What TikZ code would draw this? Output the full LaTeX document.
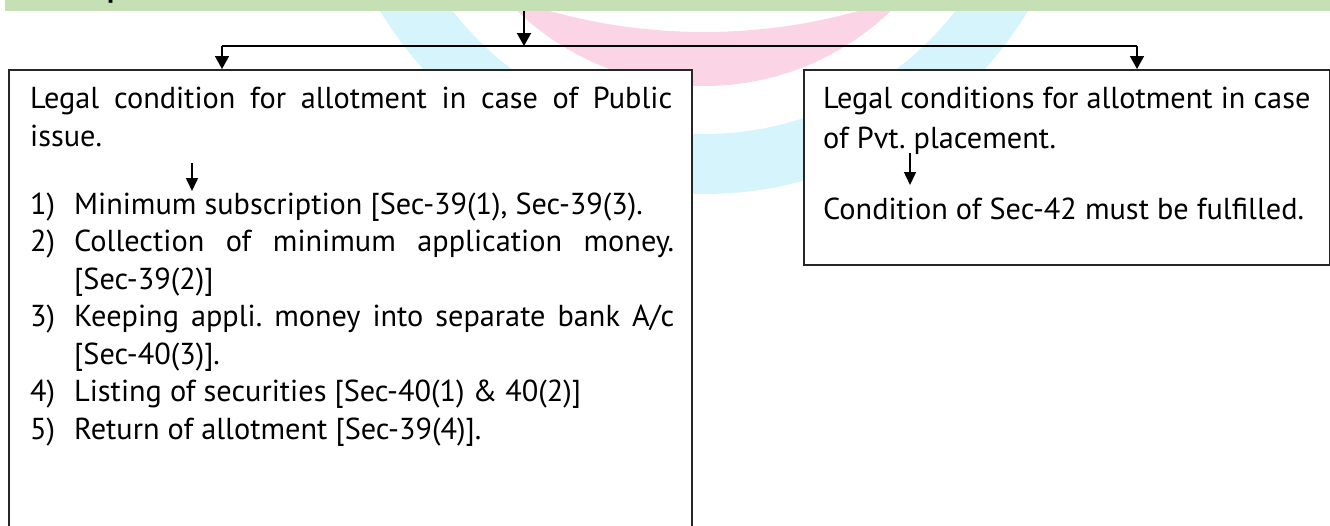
\documentclass[tikz,border=0pt]{standalone}
\usepackage{fontspec}
\setmainfont{PT Sans}
\usetikzlibrary{arrows.meta}
\frenchspacing

\definecolor{barGreen}{HTML}{C5E0B4}
\definecolor{ringPink}{HTML}{FBD5E5}
\definecolor{ringCyan}{HTML}{D5F4FC}
\definecolor{boxLine}{HTML}{262626}

\tikzset{
  txt/.style={anchor=base west, inner sep=0pt, font=\fontsize{30.3}{36}\selectfont},
  frame/.style={draw=boxLine, line width=1.8pt, fill=white, anchor=north west, inner sep=0pt},
  flow/.style={line width=1.6pt, -{Triangle[length=13pt,width=14pt]}},
  note/.style={line width=1.5pt, -{Triangle[length=13pt,width=12pt]}},
  wire/.style={line width=1.6pt},
}

\begin{document}
\begin{tikzpicture}[x=1pt,y=-1pt]
  \useasboundingbox (0,0) rectangle (1330,525);
  \clip (0,0) rectangle (1330,525);

  % watermark rings
  \fill[ringCyan, even odd rule] (704,-184) circle (378pt) (704,-184) circle (318pt);
  \begin{scope}
    \clip (704,-184) circle (270pt);
    \fill[ringPink, even odd rule] (704,-184) circle (270pt) (704,-540) circle (572pt);
  \end{scope}

  % heading bar
  \node[fill=barGreen, anchor=south west, minimum width=1325pt, minimum height=40pt, inner sep=0pt] (bar) at (5,11) {};
  \node[anchor=base west, inner sep=0pt, font=\bfseries\fontsize{29}{30}\selectfont] (ttl) at (107,-2.5) {p};

  % boxes
  \node[frame, minimum width=683pt, minimum height=470pt] (pub) at (8,69) {};
  \node[frame, minimum width=526pt, minimum height=195pt] (pvt) at (803,69) {};

  % connectors
  \coordinate (hub) at (524,46);
  \coordinate (hl) at (222,46);
  \coordinate (hr) at (1137,46);
  \draw[flow] (bar.south -| hub) -- (hub);
  \draw[wire] (hl) -- (hr);
  \draw[flow] (hl) -- (hl |- pub.north);
  \draw[flow] (hr) -- (hr |- pvt.north);

  % public issue
  \node[txt] (p1) at (30,108) {\makebox[642pt][s]{Legal condition for allotment in case of Public}};
  \node[txt] (p2) at (30,146) {issue.};
  \coordinate (pa) at (192,163);
  \coordinate (pb) at (192,191);
  \draw[note] (pa) -- (pb);

  \node[txt] (n1) at (30,214) {1)};
  \node[txt] (i1) at (74,214) {Minimum subscription [Sec-39(1), Sec-39(3).};
  \node[txt] (n2) at (30,251.5) {2)};
  \node[txt] (i2) at (74,251.5) {\makebox[600pt][s]{Collection of minimum application money.}};
  \node[txt] (i2b) at (74,289) {[Sec-39(2)]};
  \node[txt] (n3) at (30,326.5) {3)};
  \node[txt] (i3) at (74,326.5) {\makebox[600pt][s]{Keeping appli. money into separate bank A/c}};
  \node[txt] (i3b) at (74,364) {[Sec-40(3)].};
  \node[txt] (n4) at (30,401.5) {4)};
  \node[txt] (i4) at (74,401.5) {Listing of securities [Sec-40(1)~\&~40(2)]};
  \node[txt] (n5) at (30,439) {5)};
  \node[txt] (i5) at (74,439) {Return of allotment [Sec-39(4)].};

  % private placement
  \node[txt] (q1) at (823,108) {Legal conditions for allotment in case};
  \node[txt] (q2) at (823,148) {of Pvt. placement.};
  \coordinate (qa) at (910,153);
  \coordinate (qb) at (910,185);
  \draw[note] (qa) -- (qb);
  \node[txt] (q3) at (823,219) {Condition of Sec-42 must be fulfilled.};
\end{tikzpicture}
\end{document}
